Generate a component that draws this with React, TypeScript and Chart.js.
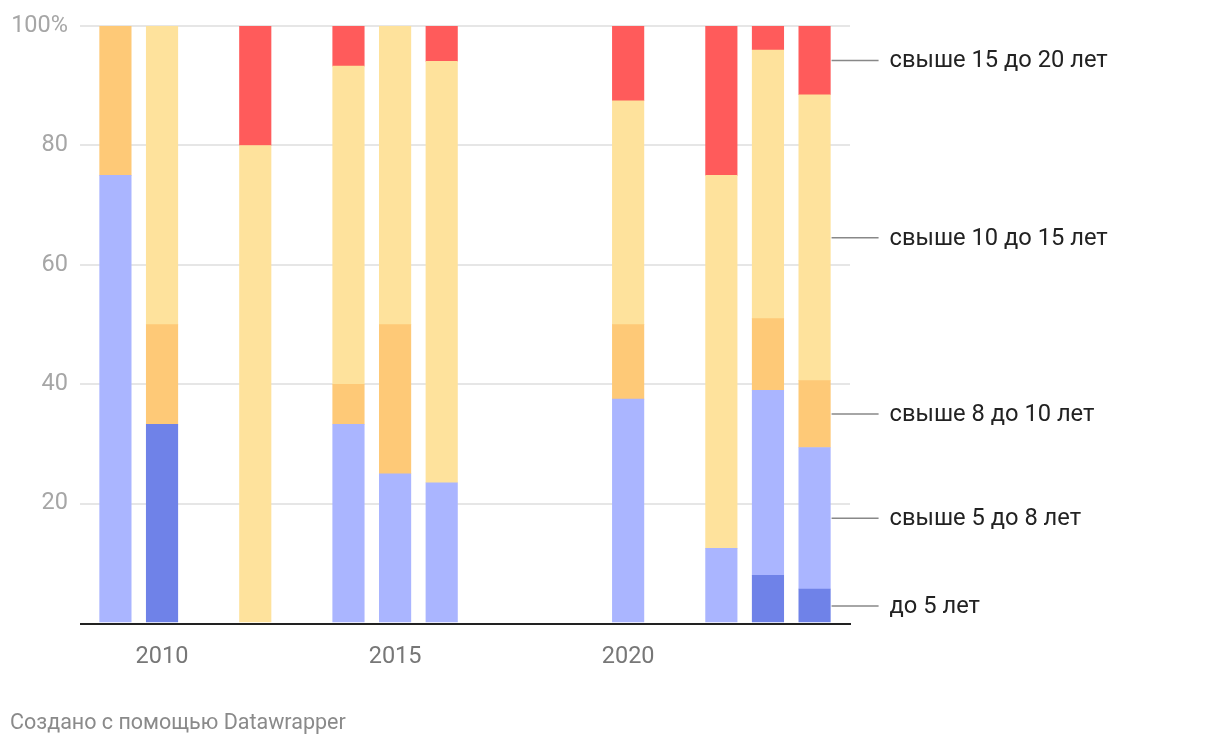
import React, { useEffect, useRef } from "react";
import { Chart, registerables } from "chart.js";

Chart.register(...registerables);

const years = [2009, 2010, 2012, 2014, 2015, 2016, 2020, 2022, 2023, 2024];
const seriesNames = [
  "до 5 лет",
  "свыше 5 до 8 лет",
  "свыше 8 до 10 лет",
  "свыше 10 до 15 лет",
  "свыше 15 до 20 лет",
];
const upTo5 = [null, 33.3, null, null, null, null, null, null, 8, 5.7];
const from5to8 = [75, null, null, 33.3, 25, 23.5, 37.5, 12.5, 31, 23.7];
const from8to10 = [25, 16.7, null, 6.7, 25, null, 12.5, null, 12, 11.2];
const from10to15 = [null, 50, 80, 53.3, 50, 70.6, 37.5, 62.5, 45, 47.9];
const from15to20 = [null, null, 20, 6.7, null, 5.9, 12.5, 25, 4, 11.5];
const seriesValues = [upTo5, from5to8, from8to10, from10to15, from15to20];
const colors = ["#6f82e8", "#aab5ff", "#fec977", "#fee29c", "#ff5b5b"];
const xTicks = [2010, 2015, 2020];
const yTicks = [0, 20, 40, 60, 80, 100];
const footer = "Создано с помощью Datawrapper";

const FONT = "Roboto, 'Noto Sans', sans-serif";

export default function App() {
  const ref = useRef<HTMLCanvasElement | null>(null);
  useEffect(() => {
    if (!ref.current) return;
    const labelPlugin = {
      id: "labelPlugin",
      afterDraw(chart: any) {
        const ctx = chart.ctx;
        const xs = chart.scales.x;
        const ys = chart.scales.y;
        const area = chart.chartArea;
        ctx.save();
        // baseline
        const y0 = ys.getPixelForValue(0);
        ctx.strokeStyle = "#222";
        ctx.lineWidth = 2;
        ctx.beginPath();
        ctx.moveTo(area.left, y0 + 1);
        ctx.lineTo(area.right + 1, y0 + 1);
        ctx.stroke();
        // series labels at last bar
        const last = years.length - 1;
        const xLast = xs.getPixelForValue(years[last]);
        let cum = 0;
        ctx.font = `23.7px ${FONT}`;
        ctx.textBaseline = "middle";
        ctx.textAlign = "left";
        seriesValues.forEach((vals, i) => {
          const v = vals[last] || 0;
          const mid = ys.getPixelForValue(cum + v / 2);
          cum += v;
          ctx.strokeStyle = "#888";
          ctx.lineWidth = 1.5;
          ctx.beginPath();
          ctx.moveTo(xLast + 17, mid);
          ctx.lineTo(xLast + 64, mid);
          ctx.stroke();
          ctx.fillStyle = "#222";
          ctx.fillText(seriesNames[i], xLast + 75, mid + 1);
        });
        // footer
        ctx.font = `21.5px ${FONT}`;
        ctx.fillStyle = "#8a8a8a";
        ctx.fillText(footer, 10, 724);
        ctx.restore();
      },
    };
    const chart = new Chart(ref.current, {
      type: "bar",
      data: {
        datasets: seriesValues.map((vals, i) => ({
          label: seriesNames[i],
          data: years
            .map((yr, j) => ({ x: yr, y: vals[j] }))
            .filter((p) => p.y !== null) as any,
          backgroundColor: colors[i],
          borderWidth: 0,
          barThickness: 31.5,
        })),
      },
      options: {
        animation: false,
        responsive: false,
        maintainAspectRatio: false,
        layout: { padding: { top: 23, right: 370, left: 0, bottom: 0 } },
        plugins: { legend: { display: false }, tooltip: { enabled: false } },
        scales: {
          x: {
            type: "linear",
            stacked: true,
            offset: false,
            min: 2008.24,
            max: 2024.76,
            grid: { display: false },
            border: { display: false },
            afterBuildTicks: (scale: any) => {
              scale.ticks = xTicks.map((v) => ({ value: v }));
            },
            afterFit: (scale: any) => {
              scale.height = 746 - 623;
            },
            ticks: {
              color: "#777",
              font: { family: FONT, size: 23.5 },
              padding: 12,
              maxRotation: 0,
              callback: (v: any) => String(v),
            },
          },
          y: {
            stacked: true,
            min: 0,
            max: 100,
            afterBuildTicks: (scale: any) => {
              scale.ticks = yTicks.map((v) => ({ value: v }));
            },
            afterFit: (scale: any) => {
              scale.width = 80;
            },
            grid: {
              color: (c: any) => (c.tick && c.tick.value === 0 ? "rgba(0,0,0,0)" : "#e6e6e6"),
              lineWidth: 2,
              drawTicks: false,
            },
            border: { display: false },
            ticks: {
              color: "#a6a6a6",
              font: { family: FONT, size: 23.5 },
              padding: 12,
              callback: (v: any) => (v === 100 ? "100%" : v === 0 ? "" : String(v)),
            },
          },
        },
      },
      plugins: [labelPlugin],
    });
    return () => chart.destroy();
  }, []);
  return (
    <div style={{ position: "fixed", left: 0, top: 0, width: 1220, height: 746, background: "#fff" }}>
      <canvas ref={ref} width={1220} height={746} style={{ display: "block" }} />
    </div>
  );
}
